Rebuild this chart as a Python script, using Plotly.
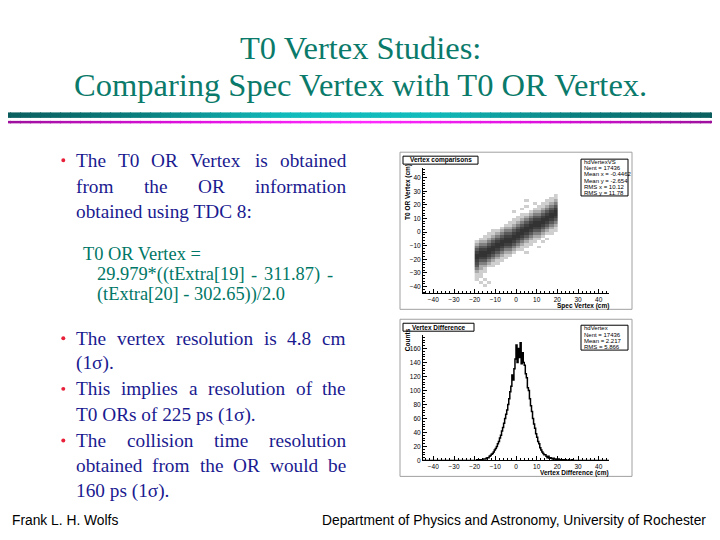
import numpy as np
import plotly.graph_objects as go

W, H = 720, 540
OFF = 8  # the page body margin shifts the figure by this many pixels

########################
# data
########################

# T0 OR vertex vs spec vertex: point density per 2 cm x 2 cm cell, 0 = empty .. 9 = darkest
spec_lo, spec_step = -20, 2      # x cells start at -20 cm
t0_top, t0_step = 30, 2          # y rows start at +30 cm, going down
density_rows = [
    "00000000000000000000",
    "00000000000000000001",
    "00000000000000000011",
    "00000000000010000112",
    "00000000000000101124",
    "00000000000010011246",
    "00000000000100112468",
    "00000000010001224689",
    "00000000000112446899",
    "00000000001124668998",
    "00000000011246889986",
    "00000000112468999864",
    "00000001124689998642",
    "00000012246899886421",
    "00001124468998664211",
    "00011246689986442110",
    "00112468899864221000",
    "01124689998642110100",
    "12246899986421101000",
    "24468998864211000000",
    "46689986642110010000",
    "68899864421100000000",
    "89998642210010000000",
    "99986421100000000000",
    "98864211000000000000",
    "86642110000000000000",
    "74421100000000000000",
    "62211000000000000000",
    "42100000000000000000",
    "21100000000000000000",
    "11000000000000000000",
    "11000000000000000000",
    "10100000000000000000",
    "01010000000000000000",
    "00100000000000000000",
    "00000000000000000000",
]

# vertex difference histogram, 0.5 cm bins starting at -20 cm
diff_lo, diff_step = -20, 0.5
diff_counts = [
    0, 0, 1, 0, 1, 1, 0, 1, 2, 2,
    2, 3, 4, 4, 6, 7, 9, 10, 12, 15,
    17, 20, 24, 27, 32, 36, 42, 47, 53, 60,
    66, 72, 80, 88, 98, 106, 122, 115, 131, 145,
    165, 140, 160, 147, 168, 138, 154, 140, 136, 124,
    118, 104, 100, 88, 78, 70, 60, 52, 46, 38,
    33, 27, 24, 18, 15, 12, 10, 8, 8, 6,
    4, 6, 3, 4, 3, 2, 3, 2, 1, 2,
    1, 2, 1, 1, 0, 1, 1, 0, 1, 0,
    0, 1, 0, 0, 1, 0, 0, 0, 0, 0,
]

axis_ticks = [-40, -30, -20, -10, 0, 10, 20, 30, 40]
count_ticks = [0, 20, 40, 60, 80, 100, 120, 140, 160]

stats_scatter = ["hdVertexVS", "Nent = 17436", "Mean x = -0.4462",
                 "Mean y = -2.654", "RMS x = 10.12", "RMS y = 11.78"]
stats_diff = ["hdVertex", "Nent = 17436", "Mean = 2.217", "RMS = 5.866"]

title_lines = ["T0 Vertex Studies:", "Comparing Spec Vertex with T0 OR Vertex."]

# each line: (words, justified?)
bullet1 = [("The T0 OR Vertex is obtained", True),
           ("from the OR information", True),
           ("obtained using TDC 8:", False)]
formula_head = [("T0 OR Vertex =", False)]
formula_body = [("29.979*((tExtra[19] - 311.87) -", True),
                ("(tExtra[20] - 302.65))/2.0", False)]
bullet2 = [("The vertex resolution is 4.8 cm", True), ("(1σ).", False)]
bullet3 = [("This implies a resolution of the", True), ("T0 ORs of 225 ps (1σ).", False)]
bullet4 = [("The collision time resolution", True),
           ("obtained from the OR would be", True),
           ("160 ps (1σ).", False)]

########################
# helpers
########################

def xp(x):
    return (x - OFF) / W

def yp(y):
    return 1 - (y - OFF) / H

def hexmix(c1, c2, t):
    a = [int(c1[i:i + 2], 16) for i in (1, 3, 5)]
    b = [int(c2[i:i + 2], 16) for i in (1, 3, 5)]
    return "#%02x%02x%02x" % tuple(round(a[k] + (b[k] - a[k]) * t) for k in range(3))

def gradient(stops, t):
    n = len(stops) - 1
    k = min(int(t * n), n - 1)
    return hexmix(stops[k], stops[k + 1], t * n - k)

# Times advance widths (1/1000 em), enough to justify the slide text
TIMES = {" ": 250, "(": 333, ")": 333, "*": 500, "-": 333, ".": 250, "/": 278, ":": 278,
         "=": 564, "[": 333, "]": 333, "σ": 550}
TIMES.update({d: 500 for d in "0123456789"})
TIMES.update(dict(zip("ABCDEFGHIJKLMNOPQRSTUVWXYZ",
                      [722, 667, 667, 722, 611, 556, 722, 722, 333, 389, 722, 611, 889,
                       722, 722, 556, 722, 667, 556, 611, 722, 722, 944, 722, 722, 611])))
TIMES.update(dict(zip("abcdefghijklmnopqrstuvwxyz",
                      [444, 500, 444, 500, 444, 333, 500, 500, 278, 278, 500, 278, 778,
                       500, 500, 500, 500, 333, 389, 278, 500, 500, 722, 500, 500, 444])))

def text_width(s, size):
    return sum(TIMES.get(ch, 500) for ch in s) * size / 1000.0

annotations = []
shapes = []

def text(s, x, y, size, color, font="Liberation Serif", xanchor="left", angle=0):
    if xanchor == "left":
        x -= 2   # annotation box padding
    annotations.append(dict(
        text=s, x=xp(x), y=yp(y), xref="paper", yref="paper",
        xanchor=xanchor, yanchor="middle", showarrow=False, textangle=angle,
        font=dict(family=font, size=size, color=color)))

def paragraph(block, x0, x1, ys, size, color):
    for (line, just), y in zip(block, ys):
        words = line.split()
        if not just or len(words) < 2:
            text(line, x0, y, size, color)
            continue
        widths = [text_width(w, size) for w in words]
        gap = (x1 - x0 - sum(widths)) / (len(words) - 1)
        x = x0
        for w, wd in zip(words, widths):
            text(w, x, y, size, color)
            x += wd + gap

NAVY = "#1a1a90"
TEAL = "#0a7a6a"
FORM = "#007766"
RED = "#e8203a"

########################
# figure
########################

fig = go.Figure()

ncols = len(density_rows[0])
dens = np.array([[int(ch) for ch in row] for row in density_rows])
xc = [spec_lo + spec_step * (i + 0.5) for i in range(ncols)]
yc = [t0_top - t0_step * (j + 0.5) for j in range(len(density_rows))]
fig.add_trace(go.Heatmap(
    x=xc, y=yc, z=dens, zmin=0, zmax=9, showscale=False, hoverinfo="skip",
    colorscale=[[0, "#ffffff"], [1 / 9, "#cfcfcf"], [2 / 9, "#aaaaaa"], [4 / 9, "#808080"],
                [6 / 9, "#5a5a5a"], [1, "#333333"]],
    xaxis="x", yaxis="y"))

hx = [-45] + [diff_lo + diff_step * i for i in range(len(diff_counts))] + [diff_lo + diff_step * len(diff_counts), 45]
hy = [0] + diff_counts + [0, 0]
fig.add_trace(go.Scatter(
    x=hx, y=hy, mode="lines", line=dict(color="black", width=1.5, shape="hv"),
    hoverinfo="skip", xaxis="x2", yaxis="y2"))

def root_axis(domain, rng, ticks, minor, anchor):
    return dict(domain=domain, range=rng, anchor=anchor, tickvals=ticks,
                ticks="inside", ticklen=4, tickcolor="black",
                minor=dict(dtick=minor, ticks="inside", ticklen=2, tickcolor="black"),
                showline=True, linecolor="black", linewidth=1, mirror=False,
                showgrid=False, zeroline=False,
                tickfont=dict(family="Liberation Sans", size=6.5, color="black"))

# pad / frame pixel positions
pad_l, pad_r = 400, 632
frm_l, frm_r = 423, 609
pads = [(153, 311, 169, 295), (321, 479, 337, 463)]

fig.update_layout(
    width=W, height=H, margin=dict(l=0, r=0, t=0, b=0),
    paper_bgcolor="white", plot_bgcolor="white", showlegend=False,
    xaxis=root_axis([xp(frm_l), xp(frm_r)], [-45, 45], axis_ticks, 2, "y"),
    yaxis=root_axis([yp(pads[0][3]), yp(pads[0][2])], [-45, 47], axis_ticks, 2, "x"),
    xaxis2=root_axis([xp(frm_l), xp(frm_r)], [-45, 45], axis_ticks, 2, "y2"),
    yaxis2=root_axis([yp(pads[1][3]), yp(pads[1][2])], [0, 179], count_ticks, 4, "x2"),
)

# pads
for top, bot, _, _ in pads:
    shapes.append(dict(type="rect", xref="paper", yref="paper", x0=xp(pad_l), x1=xp(pad_r),
                       y0=yp(bot), y1=yp(top), line=dict(color="#a0a0a0", width=1)))

# histogram title boxes
for (label, x0, x1, y0, y1) in [("Vertex comparisons", 403, 478, 157, 165),
                                ("Vertex Difference", 403, 474, 325, 333)]:
    shapes.append(dict(type="rect", xref="paper", yref="paper", x0=xp(x0), x1=xp(x1),
                       y0=yp(y1), y1=yp(y0), line=dict(color="black", width=1), fillcolor="white"))
    text("<b>" + label + "</b>", (x0 + x1) / 2, (y0 + y1) / 2, 6.5, "black",
         font="Liberation Sans", xanchor="center")

# stat boxes
for lines, y0, y1 in [(stats_scatter, 160, 197), (stats_diff, 327, 352)]:
    shapes.append(dict(type="rect", xref="paper", yref="paper", x0=xp(581), x1=xp(628),
                       y0=yp(y1), y1=yp(y0), line=dict(color="black", width=1), fillcolor="white"))
    step = (y1 - y0) / len(lines)
    for k, s in enumerate(lines):
        text(s, 584, y0 + step * (k + 0.5), 6, "black", font="Liberation Sans")

# axis titles
text("<b>Spec Vertex (cm)</b>", 611, 308, 6.5, "black", font="Liberation Sans", xanchor="right")
text("<b>Vertex Difference (cm)</b>", 611, 476, 6.5, "black", font="Liberation Sans", xanchor="right")
text("<b>T0 OR Vertex (cm)</b>", 408, 193, 6.5, "black", font="Liberation Sans", xanchor="center", angle=-90)
text("<b>Counts</b>", 407, 342, 6.5, "black", font="Liberation Sans", xanchor="center", angle=-90)

# title
text(title_lines[0], 360, 48, 32.5, TEAL, xanchor="center")
text(title_lines[1], 360, 85, 32.5, TEAL, xanchor="center")

# header bars
teal_stops = ["#0b5c5c", "#0a7f7f", "#12bcbc", "#12bcbc", "#0a7f7f", "#0b5c5c"]
mag_stops = ["#9a109a", "#dd10dd", "#ff2cff", "#dd10dd", "#9a109a"]
nseg = 72
for k in range(nseg):
    t = (k + 0.5) / nseg
    xa, xb = xp(W * k / nseg), xp(W * (k + 1) / nseg + 1)
    shapes.append(dict(type="rect", xref="paper", yref="paper", x0=xa, x1=xb,
                       y0=yp(118.5), y1=yp(113), line=dict(width=0), fillcolor=gradient(teal_stops, t)))
    shapes.append(dict(type="rect", xref="paper", yref="paper", x0=xa, x1=xb,
                       y0=yp(124), y1=yp(121.5), line=dict(width=0), fillcolor=gradient(mag_stops, t)))

# bullet text, justified between x = 76 and 346
paragraph(bullet1, 76, 346, [161, 187, 213], 19.3, NAVY)
paragraph(formula_head, 83, 330, [255], 18.4, FORM)
paragraph(formula_body, 97, 333, [276, 296], 18.4, FORM)
paragraph(bullet2, 76, 346, [340, 365], 19.3, NAVY)
paragraph(bullet3, 76, 346, [391, 417], 19.3, NAVY)
paragraph(bullet4, 76, 346, [443, 468, 494], 19.3, NAVY)

for by in [161, 340, 391, 443]:
    shapes.append(dict(type="circle", xref="paper", yref="paper",
                       x0=xp(61.3), x1=xp(65.3), y0=yp(by + 2), y1=yp(by - 2),
                       line=dict(width=0), fillcolor=RED))

# footer
text("Frank L. H. Wolfs", 12, 523, 13.8, "black", font="Liberation Sans")
text("Department of Physics and Astronomy, University of Rochester", 708, 523, 13.8, "black",
     font="Liberation Sans", xanchor="right")

fig.update_layout(annotations=annotations, shapes=shapes)
fig.write_html("out.html")
